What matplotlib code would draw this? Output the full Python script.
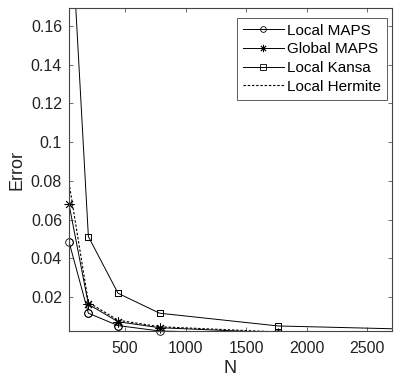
import matplotlib
matplotlib.use("Agg")
import matplotlib.pyplot as plt
import numpy as np

N = [36, 196, 441, 784, 1764, 3136]
local_maps = [0.0485, 0.0116, 0.0052, 0.0024, 0.0010, 0.0005]
global_maps = [0.0679, 0.0162, 0.0072, 0.0041, 0.0015, 0.0008]
local_kansa = [0.233, 0.0512, 0.0219, 0.0116, 0.0050, 0.0029]
local_hermite = [0.079, 0.0172, 0.0080, 0.0046, 0.0019, 0.0010]

xticks = [500, 1000, 1500, 2000, 2500]
yticks = [0.02, 0.04, 0.06, 0.08, 0.1, 0.12, 0.14, 0.16]
ytick_labels = ["0.02", "0.04", "0.06", "0.08", "0.1", "0.12", "0.14", "0.16"]

XLIM = (36, 2704)
YLIM = (0.0024, 0.1693)

plt.rcParams['font.family'] = ['Liberation Sans', 'DejaVu Sans']

fig = plt.figure(figsize=(4.02, 3.79), dpi=100)
ax = fig.add_axes([69/402, 48/379, 323/402, 323/379])

lw = 0.7
series = [
    (local_maps, 'o', 5.5, 'Local MAPS'),
    (global_maps, (8, 2, 0), 7, 'Global MAPS'),
    (local_kansa, 's', 5, 'Local Kansa'),
]
x = np.array(N, dtype=float)
for vals, m, ms, lab in series:
    v = np.array(vals)
    ax.plot(x, v, '-', marker=m, color='black', lw=lw, ms=ms, mfc='none',
            mew=0.6, label=lab)
    inside = (x >= XLIM[0]) & (x <= XLIM[1]) & (v >= YLIM[0] - 1e-9) & (v <= YLIM[1])
    ax.plot(x[inside], v[inside], linestyle='none', marker=m, color='black',
            ms=ms, mfc='none', mew=0.6, clip_on=False)
ax.plot(x, local_hermite, linestyle=(0, (2.2, 1.6)), color='black', lw=0.8,
        label='Local Hermite')

ax.set_xlim(*XLIM)
ax.set_ylim(*YLIM)
ax.set_xticks(xticks)
ax.set_yticks(yticks)
ax.set_yticklabels(ytick_labels)
ax.tick_params(direction='in', top=True, right=True, length=3, width=0.6,
               color='#555555', labelsize=11.5, labelcolor='#222222')
ax.tick_params(axis='x', pad=7)
ax.tick_params(axis='y', pad=5)
for s in ax.spines.values():
    s.set_color('#444444')
    s.set_linewidth(0.8)

ax.set_xlabel('N', fontsize=13, color='#222222', labelpad=3)
ax.set_ylabel('Error', fontsize=13, color='#222222', labelpad=4)

leg = ax.legend(loc='upper right', bbox_to_anchor=(0.985, 0.97), fontsize=11,
                frameon=True, fancybox=False, edgecolor='#333333',
                handlelength=2.7, handletextpad=0.2, borderpad=0.4,
                labelspacing=0.3, borderaxespad=0.0, markerscale=0.75)
leg.get_frame().set_linewidth(0.7)

fig.savefig('out.png', dpi=100)
